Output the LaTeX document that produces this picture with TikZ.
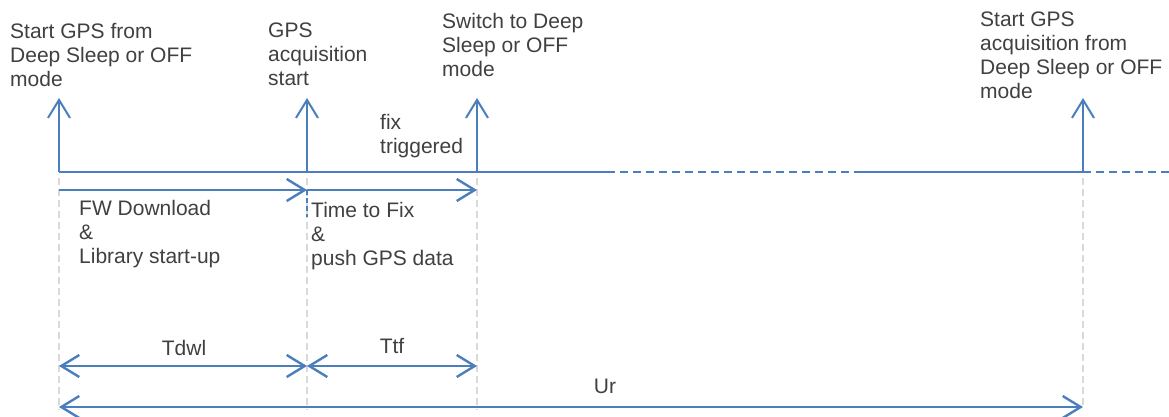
\documentclass[tikz,border=0pt]{standalone}
\usepackage{fontspec}
\setmainfont{Liberation Sans}
\usepackage{tikz}
\usetikzlibrary{arrows.meta, positioning}
\definecolor{tlblue}{RGB}{74,126,189}
\definecolor{txtgray}{RGB}{64,64,64}
\definecolor{guidegray}{RGB}{217,217,217}
\tikzset{
  tl/.style={tlblue, line width=2pt},
  tldash/.style={tl, dash pattern=on 8pt off 5pt},
  tlarrow/.style={tlblue, line width=2pt, -{Straight Barb[length=18pt,width=22pt]}},
  dimarrow/.style={tlblue, line width=2.4pt, {Straight Barb[length=18pt,width=22pt]}-{Straight Barb[length=18pt,width=22pt]}},
  guide/.style={guidegray, line width=1.5pt, dash pattern=on 7pt off 4pt},
  lbl/.style={txtgray, font=\fontsize{21}{24}\selectfont, align=left, inner sep=0pt, anchor=north west},
}

\begin{document}
\begin{tikzpicture}[x=1pt,y=-1pt]
  \useasboundingbox (0,0) rectangle (1169,417);
  \def \yt{172}
  \def \ytop{98}

  \coordinate (t0) at (59,\yt);
  \coordinate (t1) at (307,\yt);
  \coordinate (t2) at (477,\yt);
  \coordinate (t3) at (1083,\yt);
  \coordinate (d0) at (607,\yt);
  \coordinate (d1) at (858,\yt);
  \coordinate (tend) at (1169,\yt);
  \coordinate (top) at (0,\ytop);
  \coordinate (gtop) at (0,178);
  \coordinate (bot) at (0,410);
  \coordinate (rowA) at (0,190);
  \coordinate (rowAb) at (0,217);
  \coordinate (rowB) at (0,366);
  \coordinate (rowC) at (0,407);

  % guides
  \foreach \t in {t0,t1,t2}
    \draw[guide] (\t |- gtop) -- (\t |- bot);
  \draw[guide] (t3 |- gtop) -- (t3 |- rowC);

  % time line
  \draw[tl] (t0) -- (d0);
  \draw[tldash] (d0) -- (d1);
  \draw[tl] (d1) -- (t3);
  \draw[tldash] (t3) -- (tend);
  \foreach \t in {t0,t1,t2,t3}
    \draw[tlarrow] (\t) -- (\t |- top);

  \node[lbl] (startA) at (10,23) {Start GPS from\\Deep Sleep or OFF\\mode};
  \node[lbl] (acq) at (268,23) {GPS\\acquisition\\start};
  \node[lbl] (sleep) at (442,13) {Switch to Deep\\Sleep or OFF\\mode};
  \node[lbl] (startB) at (980,12) {Start GPS\\acquisition from\\Deep Sleep or OFF\\mode};
  \node[lbl] (fix) at (380,114) {fix\\triggered};

  % phases
  \draw[tlarrow, line width=2.4pt] (t0 |- rowA) -- (t1 |- rowA);
  \draw[tlarrow, line width=2.4pt] (t1 |- rowA) -- (t2 |- rowA);
  \draw[tl, line width=1.5pt, dash pattern=on 5pt off 3pt] (t1 |- rowA) -- (t1 |- rowAb);
  \node[lbl] (fwdl) at (79,200) {FW Download\\\&\\Library start-up};
  \node[lbl] (ttfix) at (311,202) {Time to Fix\\\&\\push GPS data};

  % durations
  \draw[dimarrow] (t0 |- rowB) -- (t1 |- rowB);
  \draw[dimarrow] (t1 |- rowB) -- (t2 |- rowB);
  \draw[dimarrow] (t0 |- rowC) -- (t3 |- rowC);
  \node[lbl, anchor=base] (tdwl) at (184,355) {Tdwl};
  \node[lbl, anchor=base] (ttf) at (392,353) {Ttf};
  \node[lbl, anchor=base] (ur) at (605,393) {Ur};
\end{tikzpicture}
\end{document}
